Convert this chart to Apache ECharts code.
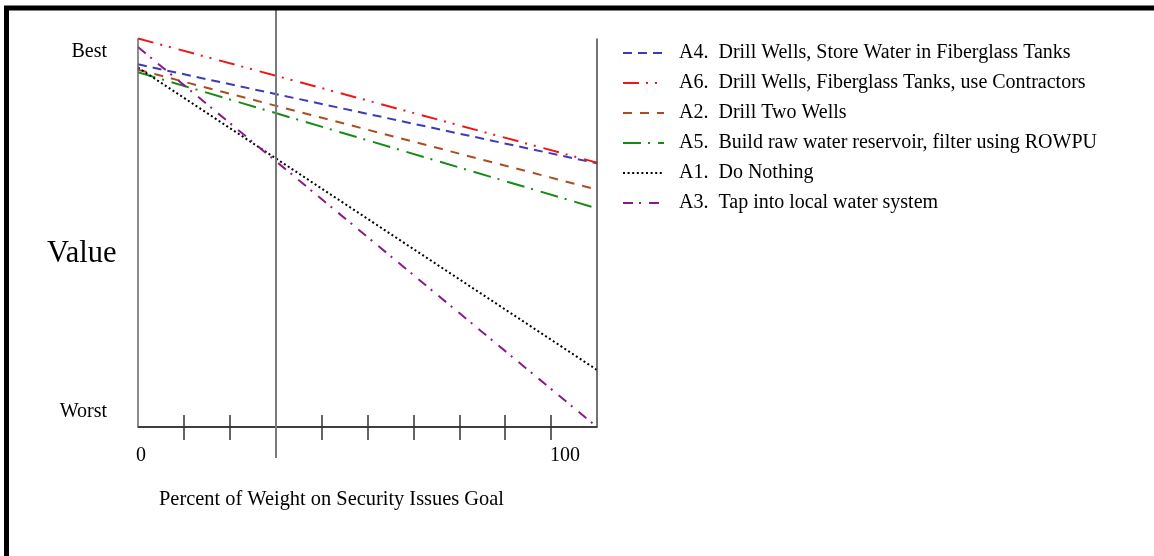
<!DOCTYPE html>
<html>
<head>
<meta charset="utf-8">
<script src="https://cdn.jsdelivr.net/npm/echarts@6/dist/echarts.min.js"></script>
<style>
html,body{margin:0;padding:0;background:#fff;}
#chart{width:1154px;height:556px;}
</style>
</head>
<body>
<div id="chart"></div>
<script>
// Weight on security goal (%) at the two ends of each line
const weights = [0, 100];
// Value scale: Worst = 0, Best = 100
const seriesNames = [
  'A4.  Drill Wells, Store Water in Fiberglass Tanks',
  'A6.  Drill Wells, Fiberglass Tanks, use Contractors',
  'A2.  Drill Two Wells',
  'A5.  Build raw water reservoir, filter using ROWPU',
  'A1.  Do Nothing',
  'A3.  Tap into local water system'
];
const a4Values = [96.5, 69.0];
const a6Values = [103.7, 69.2];
const a2Values = [95.0, 61.7];
const a5Values = [94.3, 56.5];
const a1Values = [95.6, 11.6];
const a3Values = [101.3, -4.25];
const yTickValues = [0, 100];
const yTickLabels = ['Worst', 'Best'];
const xTickLabelValues = [0, 100];
const xMinorTicks = [10, 20, 40, 50, 60, 70, 80, 90];
const currentWeight = [30];

const FONT = "'Liberation Serif', 'Times New Roman', serif";
const colors = ['#3c3cb4', '#ee1616', '#a94f1f', '#168a16', '#000000', '#8a1a8a'];
const dashes = [
  [9, 6],
  [16, 7, 2, 7, 2, 8],
  [9, 8],
  [18, 7, 2, 8],
  [2, 2.6],
  [10, 6, 2, 8]
];
const valueSets = [a4Values, a6Values, a2Values, a5Values, a1Values, a3Values];

const Y_MIN = -4.25, Y_MAX = 111.6, Y_TOP_LINE = 103.7;

const series = seriesNames.map((name, i) => ({
  name: name,
  type: 'line',
  xAxisIndex: 0,
  yAxisIndex: 0,
  symbol: 'none',
  silent: true,
  data: weights.map((w, j) => [w, valueSets[i][j]]),
  lineStyle: { color: colors[i], width: 2, type: dashes[i], cap: 'butt' },
  itemStyle: { color: colors[i] }
}));

// frame lines of the plot and the current-weight line
series.push({
  name: 'frame',
  type: 'line',
  xAxisIndex: 0,
  yAxisIndex: 0,
  data: [],
  silent: true,
  markLine: {
    symbol: ['none', 'none'],
    silent: true,
    label: { show: false },
    animation: false,
    data: [
      [{ coord: [weights[0], Y_MIN], lineStyle: { color: '#666', width: 1.5, type: 'solid' } },
       { coord: [weights[0], Y_TOP_LINE] }],
      [{ coord: [weights[1], Y_MIN], lineStyle: { color: '#444', width: 1.5, type: 'solid' } },
       { coord: [weights[1], Y_TOP_LINE] }],
      { xAxis: currentWeight[0], lineStyle: { color: '#7a7a7a', width: 2, type: 'solid' } }
    ]
  }
});

const baseX = {
  type: 'value', min: 0, max: 100, position: 'bottom',
  splitLine: { show: false }
};

const option = {
  animation: false,
  backgroundColor: '#ffffff',
  textStyle: { fontFamily: FONT, color: '#000' },
  title: [
    { text: 'Value', left: 47, top: 238, padding: 0,
      textStyle: { fontFamily: FONT, fontSize: 30.5, fontWeight: 'normal', color: '#000' } },
    { text: 'Percent of Weight on Security Issues Goal', left: 159, top: 490, padding: 0,
      textStyle: { fontFamily: FONT, fontSize: 20.4, fontWeight: 'normal', color: '#000' } }
  ],
  grid: { left: 138, right: 557, top: 10, bottom: 129, containLabel: false },
  legend: {
    orient: 'vertical',
    left: 622,
    top: 43,
    padding: 0,
    itemWidth: 41,
    itemHeight: 20,
    itemGap: 10,
    selectedMode: false,
    data: seriesNames,
    itemStyle: { opacity: 0 },
    textStyle: { fontFamily: FONT, fontSize: 20, color: '#000', padding: [0, 0, 0, 10] }
  },
  xAxis: [
    Object.assign({}, baseX, {
      axisLine: { show: true, onZero: false, lineStyle: { color: '#000', width: 1.5 } },
      axisTick: { show: true, customValues: xMinorTicks, length: 13, inside: false,
        lineStyle: { color: '#333', width: 1.5 } },
      axisLabel: {
        show: true, customValues: xTickLabelValues, margin: 19,
        fontFamily: FONT, fontSize: 20, color: '#000',
        formatter: v => v === 0 ? '{a|0}' : '{b|100}',
        rich: {
          a: { fontFamily: FONT, fontSize: 20, color: '#000', padding: [0, 0, 0, 6] },
          b: { fontFamily: FONT, fontSize: 20, color: '#000', padding: [0, 64, 0, 0] }
        }
      }
    }),
    Object.assign({}, baseX, {
      axisLine: { show: false, onZero: false },
      axisTick: { show: true, customValues: xMinorTicks, length: 12, inside: true,
        lineStyle: { color: '#333', width: 1.5 } },
      axisLabel: { show: false }
    }),
    Object.assign({}, baseX, {
      axisLine: { show: false, onZero: false },
      axisTick: { show: true, customValues: currentWeight, length: 31, inside: false,
        lineStyle: { color: '#7a7a7a', width: 2 } },
      axisLabel: { show: false }
    })
  ],
  yAxis: {
    type: 'value', min: Y_MIN, max: Y_MAX,
    axisLine: { show: false, onZero: false },
    axisTick: { show: false },
    splitLine: { show: false },
    axisLabel: {
      show: true, customValues: yTickValues, margin: 31,
      fontFamily: FONT, fontSize: 20, color: '#000',
      formatter: v => yTickLabels[yTickValues.indexOf(v)] || ''
    }
  },
  graphic: [{
    type: 'rect', silent: true, z: 100,
    shape: { x: 6.5, y: 8, width: 1160, height: 700 },
    style: { fill: 'none', stroke: '#000', lineWidth: 5 }
  }],
  series: series
};

const chart = echarts.init(document.getElementById('chart'), null, { renderer: 'canvas' });
chart.setOption(option);
</script>
</body>
</html>
